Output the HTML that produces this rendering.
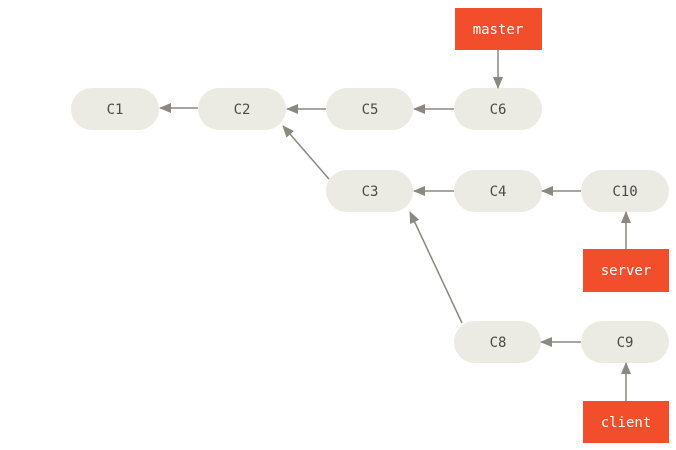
<!DOCTYPE html>
<html><head><style>
html,body{margin:0;padding:0;background:#fff;}
svg{display:block;}
text{font-family:"DejaVu Sans Mono","Liberation Mono",monospace;font-size:14px;}
</style></head><body>
<svg width="676" height="450" viewBox="0 0 676 450">
<defs>
<marker id="a" markerWidth="12" markerHeight="10" refX="11" refY="5" orient="auto" markerUnits="userSpaceOnUse">
<path d="M0,0 L12,5 L0,10 z" fill="#8c8880"/>
</marker>
</defs>
<g fill="#ebeae3">
<rect x="71" y="88" width="88" height="42" rx="21"/>
<rect x="198" y="88" width="88" height="42" rx="21"/>
<rect x="326" y="88" width="87" height="42" rx="21"/>
<rect x="454" y="88" width="88" height="42" rx="21"/>
<rect x="326" y="170" width="87" height="42" rx="21"/>
<rect x="454" y="170" width="88" height="42" rx="21"/>
<rect x="581" y="170" width="88" height="42" rx="21"/>
<rect x="454" y="321" width="87" height="42" rx="21"/>
<rect x="581" y="321" width="88" height="42" rx="21"/>
</g>
<g fill="#f24e2b">
<rect x="455" y="8" width="87" height="42"/>
<rect x="583" y="249" width="86" height="43"/>
<rect x="583" y="401" width="86" height="42"/>
</g>
<g stroke="#8c8880" stroke-width="1.5" fill="none" marker-end="url(#a)">
<line x1="198" y1="108" x2="160" y2="108"/>
<line x1="326" y1="109" x2="287" y2="109"/>
<line x1="454" y1="109" x2="414" y2="109"/>
<line x1="498" y1="50" x2="498" y2="88"/>
<line x1="329" y1="179" x2="283" y2="126"/>
<line x1="454" y1="191" x2="414" y2="191"/>
<line x1="581" y1="191" x2="542" y2="191"/>
<line x1="626" y1="249" x2="626" y2="212"/>
<line x1="462" y1="323" x2="410" y2="212"/>
<line x1="581" y1="342" x2="541" y2="342"/>
<line x1="626" y1="401" x2="626" y2="363"/>
</g>
<g fill="#4a4a48" text-anchor="middle">
<text x="115" y="114">C1</text>
<text x="242" y="114">C2</text>
<text x="370" y="114">C5</text>
<text x="498" y="114">C6</text>
<text x="370" y="196">C3</text>
<text x="498" y="196">C4</text>
<text x="625" y="196">C10</text>
<text x="498" y="347">C8</text>
<text x="625" y="347">C9</text>
</g>
<g fill="#fff" text-anchor="middle">
<text x="498" y="34">master</text>
<text x="626" y="275">server</text>
<text x="626" y="427">client</text>
</g>
</svg>
</body></html>
